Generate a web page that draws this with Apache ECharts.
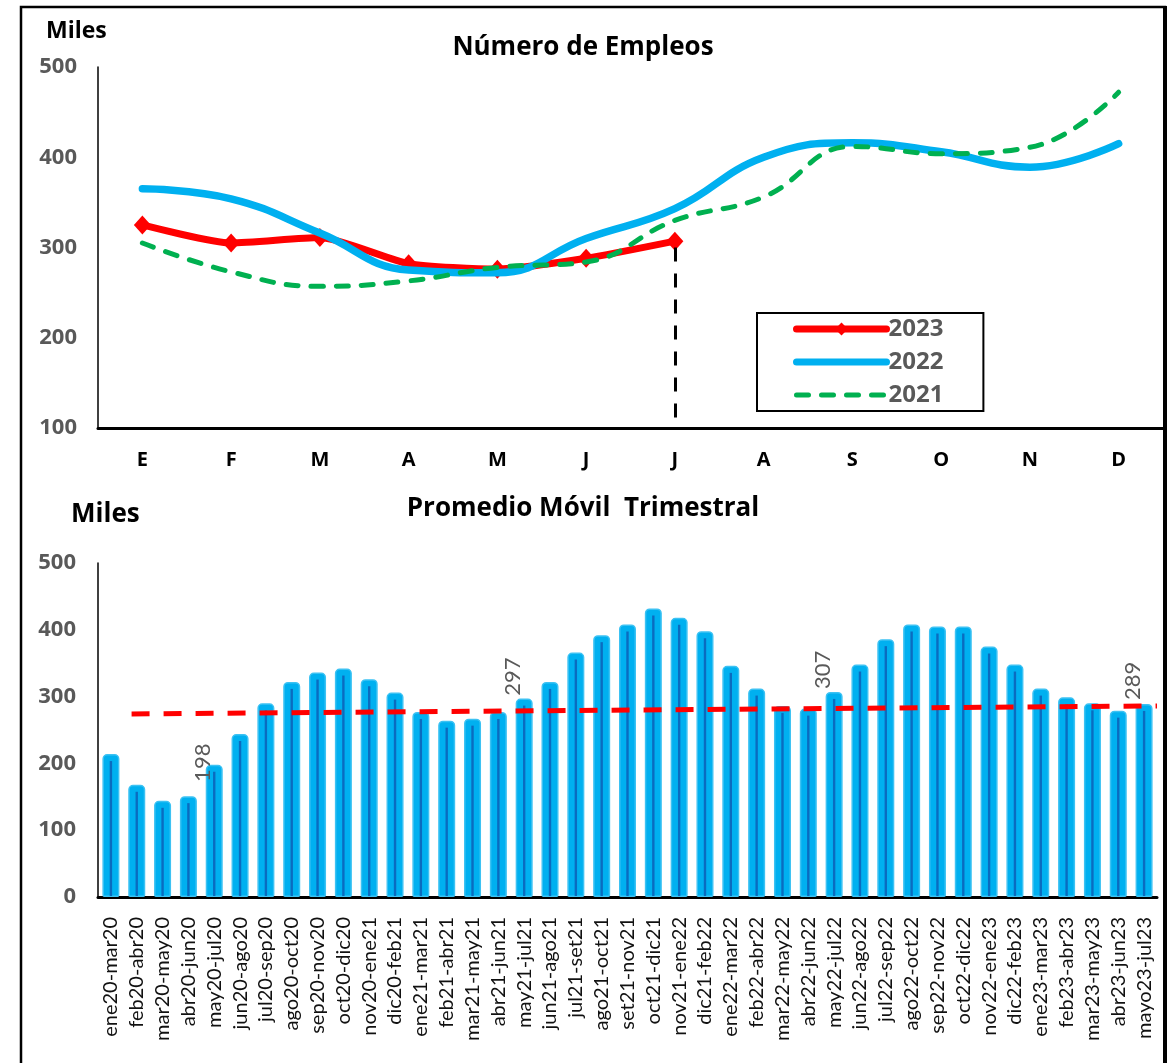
<!DOCTYPE html>
<html>
<head>
<meta charset="utf-8">
<script src="https://cdn.jsdelivr.net/npm/echarts@6/dist/echarts.min.js"></script>
<style>
html,body{margin:0;padding:0;background:#fff;}
#chart{width:1175px;height:1063px;}
</style>
</head>
<body>
<div id="chart"></div>
<script>
// ---- Data ----
const months = ['E','F','M','A','M','J','J','A','S','O','N','D'];
const y2023 = [325, 305, 311, 282, 276, 288, 307];
const y2022 = [365, 354, 316, 275, 272, 310, 343, 400, 416, 406, 389, 415];
const y2021 = [305, 273, 257, 263, 278, 284, 330, 356, 412, 404, 411, 472];
const dropLine = [6, 300, 100]; // category index, top value, bottom value

const periods = ['ene20-mar20','feb20-abr20','mar20-may20','abr20-jun20','may20-jul20','jun20-ago20',
  'jul20-sep20','ago20-oct20','sep20-nov20','oct20-dic20','nov20-ene21','dic20-feb21',
  'ene21-mar21','feb21-abr21','mar21-may21','abr21-jun21','may21-jul21','jun21-ago21',
  'jul21-set21','ago21-oct21','set21-nov21','oct21-dic21','nov21-ene22','dic21-feb22',
  'ene22-mar22','feb22-abr22','mar22-may22','abr22-jun22','may22-jul22','jun22-ago22',
  'jul22-sep22','ago22-oct22','sep22-nov22','oct22-dic22','nov22-ene23','dic22-feb23',
  'ene23-mar23','feb23-abr23','mar23-may23','abr23-jun23','mayo23-jul23'];
const movingAvg = [214,168,144,151,198,244,290,322,336,342,326,306,277,264,267,277,297,322,366,392,
  408,432,418,398,346,312,286,282,307,348,386,408,405,405,375,348,312,299,290,279,289];
const labelledBars = [4, 16, 28, 40];
const trendX = [1.3, 41];
const trendY = [274, 286];
const yTicksTop = [100, 500, 100];   // min, max, interval
const yTicksBottom = [0, 500, 100];

// ---- Styles ----
const BOLD = '"Open Sans", Lato, sans-serif';
const FONT = 'Lato, "Open Sans", sans-serif';
const labelDist = {4: 2, 16: 22, 28: 22, 40: 23};

const barItems = movingAvg.map((v, i) => {
  if (labelledBars.indexOf(i) >= 0) {
    return {value: v, label: {show: true, distance: labelDist[i]}};
  }
  return v;
});

const chart = echarts.init(document.getElementById('chart'), null, {renderer: 'canvas'});

const option = {
  backgroundColor: '#fff',
  animation: false,
  textStyle: {fontFamily: FONT},
  graphic: [
    {type: 'rect', shape: {x: 21, y: 7, width: 1144, height: 1100}, style: {fill: 'none', stroke: '#000', lineWidth: 2.5}, z: 100},
    {type: 'rect', shape: {x: 1163, y: 6, width: 4, height: 1100}, style: {fill: '#000'}, z: 100},
    {type: 'text', left: 46, top: 20, style: {text: 'Miles', font: 'bold 23px ' + BOLD, fill: '#000'}},
    {type: 'text', left: 71, top: 502, style: {text: 'Miles', font: 'bold 26px ' + BOLD, fill: '#000'}},
    {type: 'text', x: 583, y: 48, style: {text: 'Número de Empleos', font: 'bold 26px ' + BOLD, fill: '#000', align: 'center', verticalAlign: 'middle'}},
    {type: 'text', x: 583, y: 509, style: {text: 'Promedio Móvil  Trimestral', font: 'bold 26px ' + BOLD, fill: '#000', align: 'center', verticalAlign: 'middle'}}
  ],
  legend: {
    data: [
      {name: '2023', lineStyle: {width: 7}},
      {name: '2022', lineStyle: {width: 7}, itemStyle: {opacity: 0}},
      {name: '2021', lineStyle: {width: 5}, itemStyle: {opacity: 0}}
    ],
    orient: 'vertical',
    left: 757,
    top: 313,
    width: 230,
    padding: [4, 40, 4, 36],
    itemWidth: 90,
    itemHeight: 16,
    itemGap: 9,
    borderColor: '#000',
    borderWidth: 2,
    textStyle: {fontFamily: BOLD, fontWeight: 'bold', fontSize: 24, color: '#595959', padding: [0, 0, 0, -3]}
  },
  grid: [
    {left: 98, right: 12, top: 67, bottom: 635},
    {left: 98, right: 18, top: 563, bottom: 166}
  ],
  xAxis: [
    {
      gridIndex: 0, type: 'category', data: months, boundaryGap: true,
      axisLine: {lineStyle: {color: '#000', width: 3}},
      axisTick: {show: false},
      axisLabel: {fontFamily: BOLD, fontWeight: 'bold', fontSize: 20, color: '#000', margin: 22, interval: 0}
    },
    {
      gridIndex: 1, type: 'category', data: periods, boundaryGap: true,
      axisLine: {lineStyle: {color: '#000', width: 3}},
      axisTick: {show: false},
      axisLabel: {fontFamily: FONT, fontSize: 20, color: '#111', rotate: 90, margin: 20, interval: 0}
    },
    {
      gridIndex: 1, type: 'value', min: 0, max: periods.length, show: false
    }
  ],
  yAxis: [
    {
      gridIndex: 0, type: 'value', min: yTicksTop[0], max: yTicksTop[1], interval: yTicksTop[2],
      axisLine: {show: true, lineStyle: {color: '#000', width: 1.5}},
      axisTick: {show: false},
      splitLine: {show: false},
      axisLabel: {fontFamily: BOLD, fontWeight: 'bold', fontSize: 22, color: '#595959', margin: 21}
    },
    {
      gridIndex: 1, type: 'value', min: yTicksBottom[0], max: yTicksBottom[1], interval: yTicksBottom[2],
      axisLine: {show: true, lineStyle: {color: '#000', width: 1.5}},
      axisTick: {show: false},
      splitLine: {show: false},
      axisLabel: {fontFamily: BOLD, fontWeight: 'bold', fontSize: 22, color: '#595959', margin: 22}
    }
  ],
  series: [
    {
      name: '2023', type: 'line', xAxisIndex: 0, yAxisIndex: 0, data: y2023,
      smooth: 0.2, symbol: 'diamond', symbolSize: [17, 19], showSymbol: true,
      lineStyle: {color: '#FF0000', width: 7, cap: 'round', join: 'round'},
      itemStyle: {color: '#FF0000'},
      z: 3,
      markLine: {
        silent: true, symbol: 'none',
        label: {show: false},
        lineStyle: {color: '#000', width: 3, type: [14, 12]},
        data: [[{coord: [dropLine[0], dropLine[1]]}, {coord: [dropLine[0], dropLine[2]]}]]
      }
    },
    {
      name: '2022', type: 'line', xAxisIndex: 0, yAxisIndex: 0, data: y2022,
      smooth: 0.45, symbol: 'none', showSymbol: false,
      lineStyle: {color: '#00B0F0', width: 7.5, cap: 'round', join: 'round'},
      itemStyle: {color: '#00B0F0'},
      z: 4
    },
    {
      name: '2021', type: 'line', xAxisIndex: 0, yAxisIndex: 0, data: y2021,
      smooth: 0.45, symbol: 'none', showSymbol: false,
      lineStyle: {color: '#00B050', width: 5, type: [12, 13], cap: 'round', join: 'round'},
      itemStyle: {color: '#00B050'},
      z: 5
    },
    {
      name: 'Promedio', type: 'bar', xAxisIndex: 1, yAxisIndex: 1, data: barItems,
      barWidth: 17,
      itemStyle: {color: '#00B0F0', borderColor: '#3CC2F3', borderWidth: 1.5, borderRadius: [4, 4, 1, 1]},
      label: {
        show: false, position: 'top', rotate: 90, formatter: '{c}',
        fontFamily: FONT, fontSize: 22, color: '#595959'
      },
      z: 2
    },
    {
      name: 'stripe', type: 'custom', xAxisIndex: 1, yAxisIndex: 1,
      data: movingAvg.map((v, i) => [i, v]),
      encode: {x: 0, y: 1},
      renderItem: function (params, api) {
        const top = api.coord([api.value(0), api.value(1)]);
        const base = api.coord([api.value(0), 0]);
        return {
          type: 'rect',
          shape: {x: top[0] - 1.2, y: top[1] + 7, width: 2.4, height: Math.max(0, base[1] - top[1] - 8)},
          style: {fill: '#0A6CC0'}
        };
      },
      silent: true,
      z: 3
    },
    {
      name: 'trend', type: 'line', xAxisIndex: 2, yAxisIndex: 1,
      data: trendX.map((x, i) => [x, trendY[i]]),
      symbol: 'none', showSymbol: false,
      lineStyle: {color: '#FF0000', width: 5, type: [18, 14]},
      silent: true,
      z: 6
    }
  ]
};
chart.setOption(option);
</script>
</body>
</html>
